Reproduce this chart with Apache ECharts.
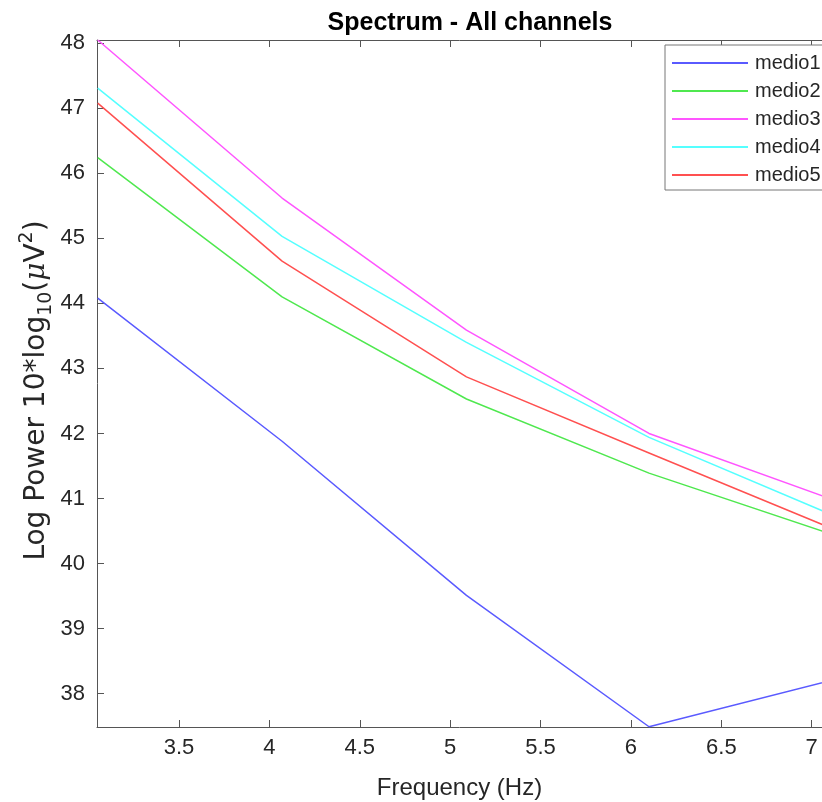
<!DOCTYPE html>
<html>
<head>
<meta charset="utf-8">
<script src="https://cdn.jsdelivr.net/npm/echarts@6/dist/echarts.min.js"></script>
<style>html,body{margin:0;padding:0;background:#fff;}#c{width:822px;height:802px;}</style>
</head>
<body>
<div id="c"></div>
<script>
var freqs = [3.05, 4.07, 5.09, 6.10, 7.12];
var seriesNames = ['medio1', 'medio2', 'medio3', 'medio4', 'medio5'];
var medio1 = [44.08, 41.88, 39.51, 37.49, 38.21];
var medio2 = [46.24, 44.10, 42.53, 41.39, 40.44];
var medio3 = [48.05, 45.62, 43.59, 42.00, 40.98];
var medio4 = [47.31, 45.03, 43.40, 41.94, 40.74];
var medio5 = [47.08, 44.65, 42.87, 41.70, 40.53];
var colors = ['#5a5aff', '#4fe84f', '#ff55ff', '#55ffff', '#ff5050'];
// visible axis window (the original figure is cropped on the right)
var xMin = 3.046, xMax = 7.057, yMin = 37.486, yMax = 48.05;

var allValues = [medio1, medio2, medio3, medio4, medio5];
var axisColor = '#555555';
var textColor = '#262626';
var font = 'Liberation Sans';
var labelFont = 'DejaVu Sans';

var series = seriesNames.map(function (name, i) {
  return {
    name: name,
    type: 'line',
    showSymbol: false,
    symbol: 'none',
    clip: true,
    lineStyle: { color: colors[i], width: 1.5 },
    itemStyle: { color: colors[i] },
    data: freqs.map(function (f, j) { return [f, allValues[i][j]]; })
  };
});

var chart = echarts.init(document.getElementById('c'), null, { renderer: 'canvas' });
chart.setOption({
  animation: false,
  backgroundColor: '#ffffff',
  title: {
    text: 'Spectrum - All channels',
    left: 465, top: 6, textAlign: 'center',
    textStyle: { fontFamily: font, fontSize: 25, fontWeight: 'bold', color: '#000' }
  },
  legend: {
    orient: 'vertical',
    left: 665, top: 45,
    icon: 'rect',
    itemWidth: 76, itemHeight: 2,
    itemGap: 8,
    padding: [8, 30, 5, 7],
    borderColor: '#777', borderWidth: 1,
    backgroundColor: '#fff',
    textStyle: { fontFamily: font, fontSize: 20, color: textColor, padding: [0, 0, 0, 2] },
    data: seriesNames
  },
  grid: { left: 97, top: 40, right: 0, bottom: 75, containLabel: false, outerBoundsMode: 'none' },
  xAxis: [{
    type: 'value', min: xMin, max: xMax, splitNumber: 8, minInterval: 0.5, maxInterval: 0.5,
    name: 'Frequency (Hz)', nameLocation: 'middle', nameGap: 49,
    nameTextStyle: { fontFamily: font, fontSize: 24, color: textColor },
    axisLine: { show: true, onZero: false, lineStyle: { color: axisColor, width: 1 } },
    axisTick: { show: true, inside: true, length: 7, lineStyle: { color: axisColor } },
    axisLabel: { fontFamily: font, fontSize: 22, color: textColor, margin: 10, showMinLabel: false, showMaxLabel: false },
    splitLine: { show: false }
  }, {
    type: 'value', position: 'top', min: xMin, max: xMax, splitNumber: 8, minInterval: 0.5, maxInterval: 0.5,
    axisLine: { show: true, onZero: false, lineStyle: { color: axisColor, width: 1 } },
    axisTick: { show: true, inside: true, length: 7, lineStyle: { color: axisColor } },
    axisLabel: { show: false },
    splitLine: { show: false }
  }],
  yAxis: [{
    type: 'value', min: yMin, max: yMax, splitNumber: 10, minInterval: 1, maxInterval: 1,
    name: '{t|Log Power 10*log}{sub|10}{t|(}{mu|μ}{t|V}{sup|2}{t|)}',
    nameLocation: 'middle', nameGap: 41, nameRotate: 90, nameMoveOverlap: false,
    nameTextStyle: {
      fontFamily: labelFont, fontSize: 28, color: textColor, padding: [0, 14, 0, 0],
      rich: {
        t: { fontFamily: labelFont, fontSize: 28, color: textColor, lineHeight: 38, verticalAlign: 'middle' },
        mu: { fontFamily: 'DejaVu Serif', fontStyle: 'italic', fontSize: 28, color: textColor, lineHeight: 38, verticalAlign: 'middle' },
        sub: { fontFamily: labelFont, fontSize: 19, color: textColor, lineHeight: 38, verticalAlign: 'bottom' },
        sup: { fontFamily: labelFont, fontSize: 19, color: textColor, lineHeight: 38, verticalAlign: 'top' }
      }
    },
    axisLine: { show: true, onZero: false, lineStyle: { color: axisColor, width: 1 } },
    axisTick: { show: true, inside: true, length: 7, lineStyle: { color: axisColor } },
    axisLabel: { fontFamily: font, fontSize: 22, color: textColor, margin: 12, showMinLabel: false, showMaxLabel: false },
    splitLine: { show: false }
  }],
  series: series
});
</script>
</body>
</html>
